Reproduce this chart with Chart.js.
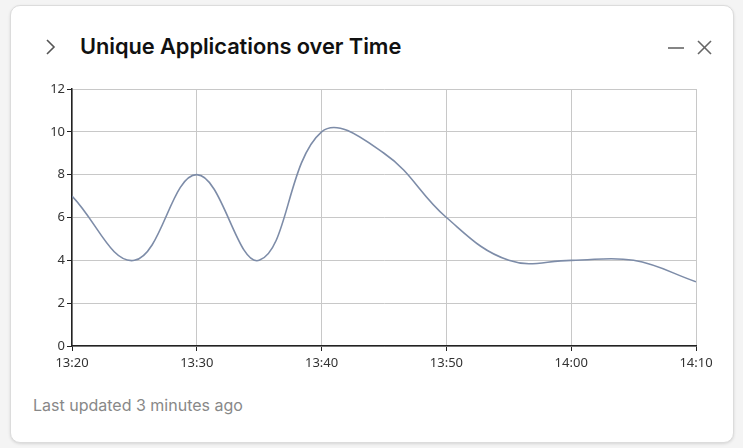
<!DOCTYPE html>
<html><head><meta charset="utf-8">
<script src="https://cdn.jsdelivr.net/npm/chart.js@4"></script>
<style>
html,body{margin:0;padding:0;background:#f4f4f4;width:743px;height:448px;overflow:hidden;font-family:"Open Sans",sans-serif}
.card{position:absolute;left:10px;top:5px;width:722px;height:436px;background:#fff;border:1px solid #dcdcdc;border-radius:10px;box-shadow:0 1px 3px rgba(0,0,0,0.12)}
.title{position:absolute;left:80px;top:33px;font-size:21.8px;font-weight:600;color:#111;font-family:"Inter",sans-serif;letter-spacing:-0.05px;white-space:nowrap}
.foot{position:absolute;left:33px;top:395px;font-size:16px;color:#888;font-family:"Inter",sans-serif;white-space:nowrap}
.icons{position:absolute;left:0;top:0}
#wrap{position:absolute;left:20px;top:76px;width:700px;height:300px}
</style></head><body>
<div class="card"></div>
<svg class="icons" width="743" height="100">
  <polyline points="47,40 54,47 47,54" fill="none" stroke="#555" stroke-width="1.6"/>
  <line x1="668" y1="48" x2="684" y2="48" stroke="#666" stroke-width="1.6"/>
  <line x1="698" y1="41" x2="711" y2="54" stroke="#666" stroke-width="1.6"/>
  <line x1="711" y1="41" x2="698" y2="54" stroke="#666" stroke-width="1.6"/>
</svg>
<div class="title">Unique Applications over Time</div>
<div class="foot">Last updated 3 minutes ago</div>
<div id="wrap"><canvas id="c"></canvas></div>
<script>
const times = ["13:20","13:25","13:30","13:35","13:40","13:45","13:50","13:55","14:00","14:05","14:10"];
const uniqueApps = [7,4,8,4,10,9,6,4,4,4,3];
const xTickLabels = ["13:20","13:30","13:40","13:50","14:00","14:10"];
const yTicks = [0,2,4,6,8,10,12];

const toMin = s => { const [h,m] = s.split(":").map(Number); return h*60+m; };
const base = toMin(times[0]);
const pts = times.map((t,i)=>({x: toMin(t)-base, y: uniqueApps[i]}));
const fmt = v => { const t = base+v; const h=Math.floor(t/60), m=t%60; return h+":"+String(m).padStart(2,"0"); };

new Chart(document.getElementById("c"), {
  type: "line",
  data: { datasets: [{ data: pts, borderColor: "#7d8ca8", borderWidth: 1.6, pointRadius: 0, tension: 0.4, fill: false }] },
  options: {
    responsive: true, maintainAspectRatio: false, animation: false,
    layout: { padding: { top: 13, right: 24, left: 0, bottom: 0 } },
    plugins: { legend: { display: false }, tooltip: { enabled: false } },
    scales: {
      x: {
        type: "linear", min: 0, max: toMin(xTickLabels[xTickLabels.length-1]) - base,
        afterBuildTicks: ax => { ax.ticks = xTickLabels.map(s=>({value: toMin(s)-base})); },
        ticks: { callback: v => fmt(v), color: "#333", font: { family: "Noto Sans", size: 13 }, maxRotation: 0, padding: 4 },
        grid: { color: "#c8c8c8", lineWidth: 1, tickLength: 5, tickColor: "#222", drawTicks: true },
        border: { color: "#222", width: 1.5 },
        afterFit: ax => { ax.height = 30; }
      },
      y: {
        min: 0, max: 12,
        afterBuildTicks: ax => { ax.ticks = yTicks.map(v=>({value: v})); },
        ticks: { color: "#333", font: { family: "Noto Sans", size: 13 }, padding: 2 },
        grid: { color: "#c8c8c8", lineWidth: 1, tickLength: 5, tickColor: "#222" },
        border: { color: "#222", width: 1.5 },
        afterFit: ax => { ax.width = 52; }
      }
    }
  }
});
</script>
</body></html>
